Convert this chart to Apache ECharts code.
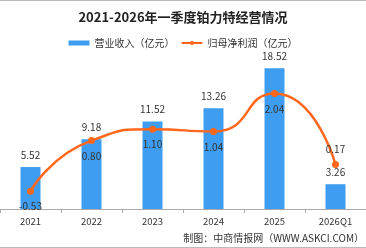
<!DOCTYPE html>
<html>
<head>
<meta charset="utf-8">
<script src="https://cdn.jsdelivr.net/npm/echarts@6/dist/echarts.min.js"></script>
<style>
  html, body { margin: 0; padding: 0; background: #fff; }
  #main { width: 366px; height: 248px; }
</style>
</head>
<body>
<div id="main"></div>
<script>
var years = ['2021', '2022', '2023', '2024', '2025', '2026Q1'];
var revenue = [5.52, 9.18, 11.52, 13.26, 18.52, 3.26];
var profit = [-0.53, 0.80, 1.10, 1.04, 2.04, 0.17];

var chartDom = document.getElementById('main');
var myChart = echarts.init(chartDom);
var option;

var font = '"Noto Sans CJK SC", "DejaVu Sans", sans-serif';

function two(p) {
  return Number(p.value).toFixed(2);
}

option = {
  animation: false,
  title: {
    text: '2021-2026年一季度铂力特经营情况',
    left: 'center',
    top: 6,
    textStyle: { fontSize: 13, fontWeight: 'bold', color: '#222', fontFamily: font }
  },
  legend: {
    top: 33,
    left: 'center',
    itemWidth: 21,
    itemHeight: 5,
    itemGap: 6,
    textStyle: { fontSize: 10, color: '#333', fontFamily: font },
    data: [
      { name: '营业收入（亿元）', icon: 'rect' },
      { name: '归母净利润（亿元）' }
    ]
  },
  grid: { left: -3, right: -9, top: 57, bottom: 39 },
  xAxis: {
    type: 'category',
    data: years,
    axisLine: { lineStyle: { color: '#aaa' } },
    axisTick: { show: true, length: 4, lineStyle: { color: '#aaa' } },
    axisLabel: { color: '#333', fontSize: 9.5, margin: 8, fontFamily: font }
  },
  yAxis: [
    { type: 'value', min: 0, max: 20, show: false, splitLine: { show: false } },
    { type: 'value', min: -1, max: 3, show: false, splitLine: { show: false } }
  ],
  series: [
    {
      name: '营业收入（亿元）',
      type: 'bar',
      barWidth: 20,
      data: revenue,
      itemStyle: { color: '#3e9cf1' },
      label: {
        show: true,
        position: 'top',
        distance: 7,
        formatter: two,
        color: '#333',
        fontSize: 10,
        fontFamily: font
      }
    },
    {
      name: '归母净利润（亿元）',
      type: 'line',
      yAxisIndex: 1,
      smooth: 0.6,
      symbol: 'circle',
      symbolSize: 7,
      data: profit.map(function (v, i) {
        return {
          value: v,
          label: { position: i === profit.length - 1 ? 'top' : 'bottom' }
        };
      }),
      lineStyle: { color: '#ff671c', width: 2.5 },
      itemStyle: { color: '#ff671c' },
      label: {
        show: true,
        distance: 7,
        formatter: two,
        color: '#333',
        fontSize: 10,
        fontFamily: font
      }
    }
  ],
  graphic: [
    {
      type: 'text',
      right: 2,
      top: 233,
      style: {
        text: '制图：中商情报网（WWW.ASKCI.COM）',
        fill: '#333',
        fontSize: 10,
        fontFamily: font
      }
    },
    {
      type: 'line',
      shape: { x1: 0, y1: 0.5, x2: 366, y2: 0.5 },
      style: { stroke: '#bbb', lineWidth: 1 }
    },
    {
      type: 'line',
      shape: { x1: 0, y1: 247.5, x2: 366, y2: 247.5 },
      style: { stroke: '#bbb', lineWidth: 1 }
    }
  ]
};

option && myChart.setOption(option);
</script>
</body>
</html>
